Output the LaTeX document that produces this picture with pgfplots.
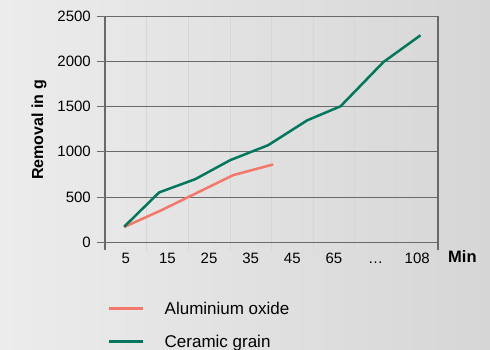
\documentclass[border=0pt]{standalone}
\usepackage{fontspec}
\setmainfont{Liberation Sans}
\usepackage{pgfplots}
\pgfplotsset{compat=1.18}
\definecolor{grn}{HTML}{00785C}
\definecolor{sal}{HTML}{F2786A}
\definecolor{gridc}{HTML}{6A6A6A}
\definecolor{bgl}{HTML}{ECECEC}
\definecolor{bgr}{HTML}{D6D6D6}
\definecolor{sepc}{HTML}{D6D6D6}
\begin{document}
\begin{tikzpicture}[x=1pt,y=1pt]
\useasboundingbox (0,0) rectangle (490,349);
\shade[left color=bgl, right color=bgr] (0,0) rectangle (490,349);
\begin{axis}[
  at={(105pt,99pt)}, anchor=south west,
  scale only axis, width=333pt, height=234pt,
  xmin=-0.5, xmax=7.5, ymin=-85, ymax=2500,
  clip=false,
  xtick={0,1,2,3,4,5,6,7},
  xticklabels={5,15,25,35,45,65,\ldots,108},
  ytick={0,500,1000,1500,2000,2500},
  minor xtick={0.5,1.5,2.5,3.5,4.5,5.5,6.5},
  xminorgrids, ymajorgrids,
  minor grid style={sepc, line width=0.5pt},
  major grid style={gridc, line width=1pt},
  minor tick length=0pt,
  major tick length=8pt,
  tick align=outside,
  xtick pos=bottom, ytick pos=left,
  xtick style={draw=none},
  ytick style={gridc, line width=1pt},
  separate axis lines,
  x axis line style={draw=none},
  y axis line style={draw=gridc, line width=1.2pt},
  scaled y ticks=false,
  /pgf/number format/1000 sep={},
  /pgf/number format/assume math mode=true,
  tick label style={font=\fontsize{15}{18}\selectfont},
  yticklabel style={inner sep=0pt, xshift=-6pt},
  xticklabel style={inner sep=0pt, yshift=6pt, text height=11pt, text depth=0pt},
  ylabel={Removal in g},
  ylabel style={font=\bfseries\fontsize{16}{19}\selectfont, at={(rel axis cs:-0.198,0.513)}, anchor=center},
  legend style={at={(rel axis cs:0,-0.214)}, anchor=north west, draw=none, fill=none,
    font=\fontsize{17}{20}\selectfont, row sep=21pt,
    nodes={inner sep=0pt, text height=12pt, text depth=0pt},
    /tikz/every odd column/.append style={column sep=20pt}},
  legend cell align=left,
  legend image code/.code={\draw[#1] (0pt,0pt) -- (34pt,0pt);},
]
\addplot[sal, line width=2.5pt] coordinates {(-0.04,169) (0.83,349) (1.69,542) (2.58,742) (3.54,860)};
\addlegendentry{Aluminium oxide}
\addplot[grn, line width=2.5pt] coordinates {(-0.04,172) (0.80,551) (1.67,698) (2.51,908) (3.42,1073) (4.36,1348) (5.16,1503) (6.19,1992) (7.08,2287)};
\addlegendentry{Ceramic grain}
\node[anchor=west, inner sep=0pt, font=\bfseries\fontsize{16.5}{19}\selectfont] at (rel axis cs:1,0) [xshift=10pt, yshift=-7pt] {Min};
\end{axis}
\end{tikzpicture}
\end{document}
